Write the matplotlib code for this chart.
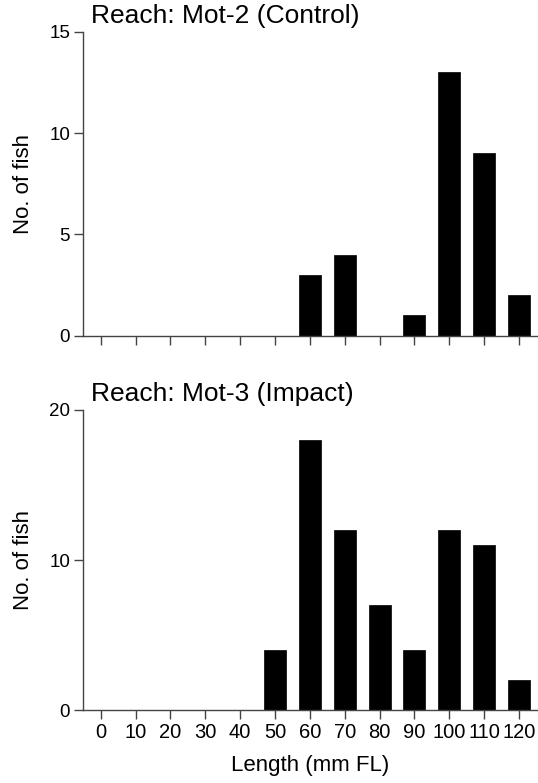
import matplotlib
matplotlib.use("Agg")
import matplotlib.pyplot as plt

plt.rcParams['font.family'] = ['Liberation Sans', 'DejaVu Sans']

lengths = [0, 10, 20, 30, 40, 50, 60, 70, 80, 90, 100, 110, 120]
tick_labels = [str(v) for v in lengths]
control_counts = [0, 0, 0, 0, 0, 0, 3, 4, 0, 1, 13, 9, 2]
impact_counts = [0, 0, 0, 0, 0, 4, 18, 12, 7, 4, 12, 11, 2]
titles = ["Reach: Mot-2 (Control)", "Reach: Mot-3 (Impact)"]
ylims = [15, 20]
yticks_list = [[0, 5, 10, 15], [0, 10, 20]]

fig = plt.figure(figsize=(5.38, 7.83), dpi=100)
ax1 = fig.add_axes([0.1537, 0.5713, 0.8463, 0.3882])
ax2 = fig.add_axes([0.1537, 0.0932, 0.8463, 0.3832])

spine_col = '#444444'
for ax, counts, title, ymax, yt in zip([ax1, ax2], [control_counts, impact_counts],
                                        titles, ylims, yticks_list):
    nz = [(x, c) for x, c in zip(lengths, counts) if c > 0]
    ax.bar([p[0] for p in nz], [p[1] for p in nz], width=6.3, color='black',
           edgecolor='black', linewidth=0.5)
    ax.set_xlim(-5.16, 125.44)
    ax.set_ylim(0, ymax)
    ax.set_yticks(yt)
    ax.set_xticks(lengths)
    for s in ['top', 'right']:
        ax.spines[s].set_visible(False)
    for s in ['left', 'bottom']:
        ax.spines[s].set_color(spine_col)
        ax.spines[s].set_linewidth(1.0)
    ax.tick_params(axis='y', direction='out', length=6.5, width=1, color=spine_col,
                   labelsize=13.5, pad=2.5)
    ax.tick_params(axis='x', direction='out', length=6.5, width=1, color=spine_col,
                   labelsize=14.5, pad=3)
    ax.set_ylabel("No. of fish", fontsize=16, labelpad=11)
    ax.text(0.018, 1.012, title, transform=ax.transAxes, fontsize=19,
            ha='left', va='bottom')

ax1.set_xticklabels([])
ax2.set_xticklabels(tick_labels)
ax2.set_xlabel("Length (mm FL)", fontsize=16, labelpad=9)

fig.savefig("out.png", dpi=100)
